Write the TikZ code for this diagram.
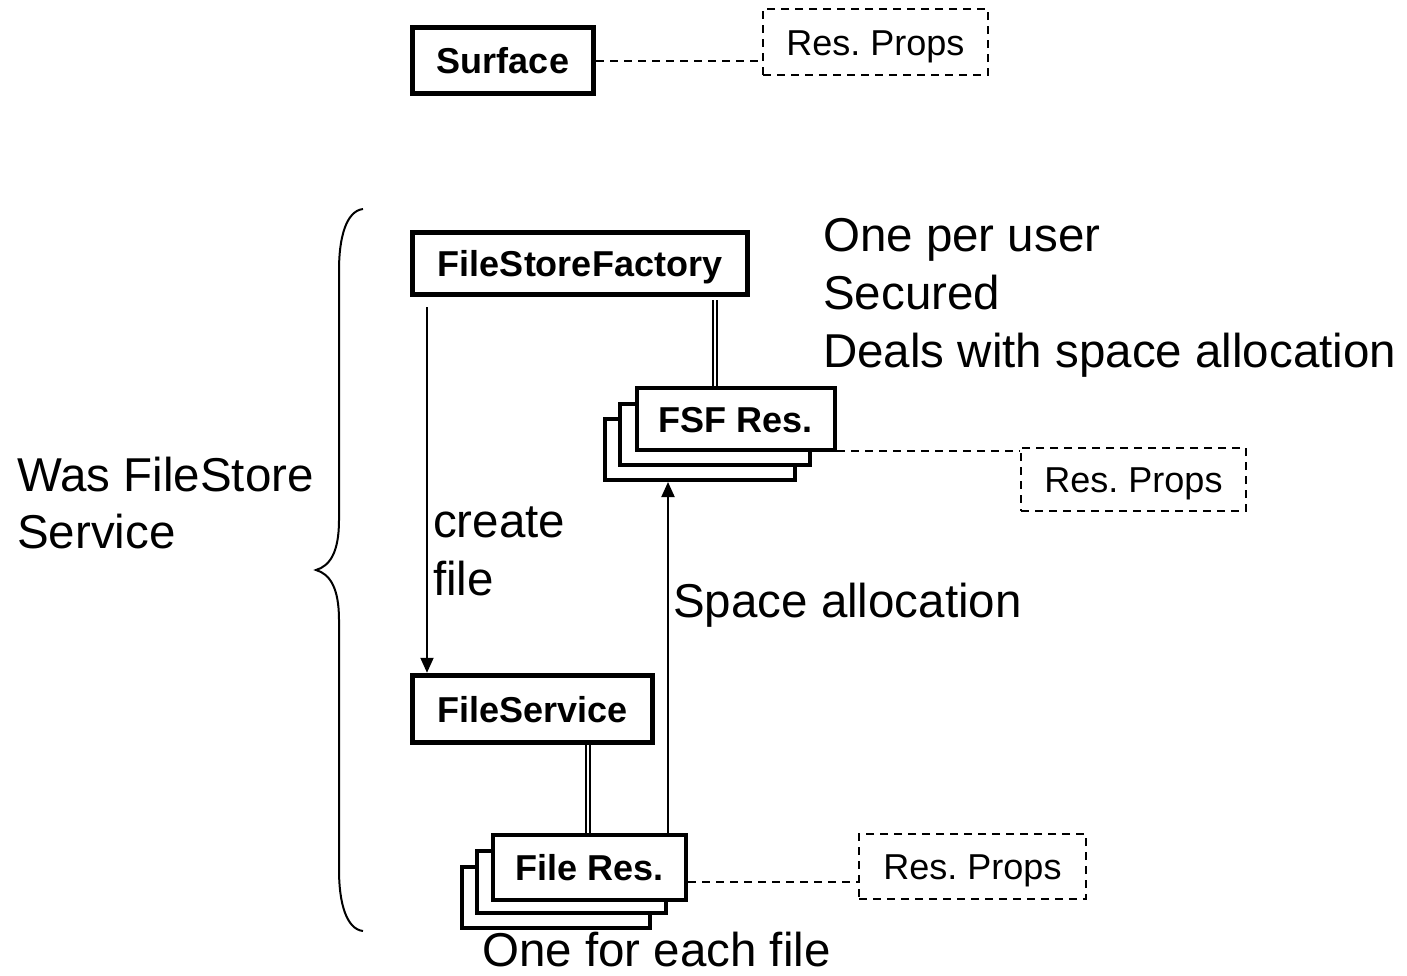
\documentclass[tikz,border=0pt]{standalone}
\usepackage{fontspec}
\setmainfont{Liberation Sans}
\usetikzlibrary{arrows.meta,calc}
\frenchspacing
\begin{document}
\begin{tikzpicture}[x=1pt,y=-1pt,
  mainbox/.style={draw, line width=5.5pt, fill=white, inner sep=0pt, text height=26pt, text depth=0pt, font=\fontsize{36}{43}\selectfont\bfseries},
  stackbox/.style={draw, line width=4pt, fill=white, inner sep=0pt, text height=26pt, text depth=0pt, font=\fontsize{36}{43}\selectfont\bfseries},
  propbox/.style={draw, line width=2.5pt, dash pattern=on 8pt off 6pt, fill=white, inner sep=0pt, text height=26pt, text depth=0pt, font=\fontsize{36}{43}\selectfont},
  big/.style={anchor=base west, inner sep=0pt, font=\fontsize{47.5}{58}\selectfont},
  dline/.style={line width=2pt, dash pattern=on 8pt off 6pt},
  arr/.style={line width=2pt, -{Triangle[length=15pt,width=13pt]}},
  dbl/.style={double, double distance=2pt, line width=2pt}
]
\useasboundingbox (0,0) rectangle (1407,975);

% double lines first (boxes cover their ends)
\coordinate (d1) at (715,300);
\coordinate (d2) at (715,390);
\coordinate (d3) at (588,740);
\coordinate (d4) at (588,836);
\draw[dbl] (d1) -- (d2);
\draw[dbl] (d3) -- (d4);

% boxes
\node[mainbox, minimum width=181pt, minimum height=66pt] (surface) at (503,60.5) {Surface};
\node[propbox, minimum width=225pt, minimum height=66pt] (props1) at (875.5,42) {Res. Props};
\node[mainbox, minimum width=335pt, minimum height=62pt] (fsf) at (580,263.5) {FileStoreFactory};

\node[stackbox, minimum width=190pt, minimum height=61pt] (fsfres3) at (700,449.5) {};
\node[stackbox, minimum width=190pt, minimum height=61pt] (fsfres2) at (715,434.5) {};
\node[stackbox, minimum width=198pt, minimum height=62pt] (fsfres1) at (736,419) {FSF Res.};
\node[propbox, minimum width=225pt, minimum height=63pt] (props2) at (1133.5,479.5) {Res. Props};

\node[mainbox, minimum width=240pt, minimum height=67pt] (fileservice) at (532.5,709) {FileService};

\node[stackbox, minimum width=188pt, minimum height=61pt] (fileres3) at (556,897.5) {};
\node[stackbox, minimum width=189pt, minimum height=62pt] (fileres2) at (571.5,882) {};
\node[stackbox, minimum width=193pt, minimum height=65pt] (fileres1) at (589.5,867.5) {File Res.};
\node[propbox, minimum width=227pt, minimum height=65pt] (props3) at (972.5,866.5) {Res. Props};

% dashed connectors
\draw[dline] (surface.east) -- (surface.east -| props1.west);
\draw[dline] ([yshift=1pt]fsfres1.south east) -- ([yshift=1pt]fsfres1.south east -| props2.west);
\draw[dline] ([yshift=-14.5pt]fileres1.east) -- ([yshift=-14.5pt]fileres1.east -| props3.west);

% arrows
\coordinate (cf0) at (427,307);
\draw[arr] (cf0) -- (cf0 |- fileservice.north);
\coordinate (sa0) at (668,833);
\draw[arr] (sa0) -- (sa0 |- fsfres3.south);

% brace
\draw[line width=2pt] (363,209) .. controls (346,211) and (339,238) .. (339,270)
  -- (339,520) .. controls (339,552) and (330,566) .. (316,570)
  .. controls (330,574) and (339,588) .. (339,620)
  -- (339,870) .. controls (339,902) and (346,929) .. (363,931);

% texts
\node[big] (t1) at (823,251) {One per user};
\node[big] (t2) at (823,309) {Secured};
\node[big] (t3) at (823,367) {Deals with space allocation};
\node[big] (t4) at (17,491) {Was FileStore};
\node[big] (t5) at (17,548) {Service};
\node[big] (t6) at (433,537) {create};
\node[big] (t7) at (433,595) {file};
\node[big] (t8) at (673,617) {Space allocation};
\node[big] (t9) at (482,966) {One for each file};
\end{tikzpicture}
\end{document}
